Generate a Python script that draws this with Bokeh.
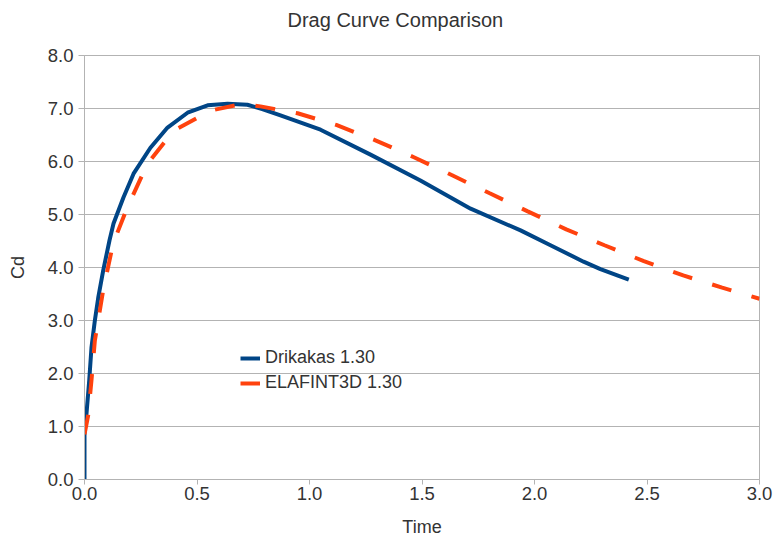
from bokeh.plotting import figure
from bokeh.models import (Range1d, FixedTicker, Legend, LegendItem, NumeralTickFormatter,
                          Title, LinearAxis)
from bokeh.embed import file_html
from bokeh.resources import INLINE

# Drikakas 1.30
blue_t = [0, 0, 0.009, 0.021, 0.031, 0.046, 0.061, 0.083, 0.111, 0.129, 0.173, 0.218,
          0.293, 0.369, 0.458, 0.547, 0.636, 0.724, 0.79, 0.871, 1.049, 1.271, 1.493, 1.716,
          1.938, 2.071, 2.218, 2.293, 2.419]
blue_cd = [0, 0.87, 1.25, 1.87, 2.49, 3.0, 3.43, 3.94, 4.51, 4.83, 5.32, 5.77,
           6.26, 6.64, 6.92, 7.06, 7.09, 7.07, 6.99, 6.87, 6.60, 6.13, 5.64, 5.11,
           4.70, 4.42, 4.11, 3.97, 3.77]

# ELAFINT3D 1.30
red_t = [0, 0.016, 0.031, 0.046, 0.083, 0.127, 0.19, 0.28, 0.396, 0.56, 0.693, 0.782,
         0.947, 1.119, 1.293, 1.464, 1.634, 1.801, 1.970, 2.141, 2.311, 2.486, 2.661,
         2.834, 3.0]
red_cd = [0.85, 1.2, 1.87, 2.62, 3.57, 4.45, 5.13, 5.96, 6.58, 6.96, 7.08, 7.04,
          6.91, 6.69, 6.40, 6.08, 5.74, 5.40, 5.06, 4.72, 4.42, 4.12, 3.85,
          3.62, 3.41]

x_ticks = [0.0, 0.5, 1.0, 1.5, 2.0, 2.5, 3.0]
y_ticks = [0, 1, 2, 3, 4, 5, 6, 7, 8]
title_text = "Drag Curve Comparison"

FONT = "Liberation Sans"
TXT = "#333333"
GRID = "#b3b3b3"

p = figure(width=776, height=541, output_backend="svg", toolbar_location=None,
           x_range=Range1d(0, 3), y_range=Range1d(0, 8),
           min_border_left=84, min_border_right=17, min_border_top=55, min_border_bottom=62)

xax = p.below[0]
yax = p.left[0]

# invisible spacer axis above the frame, to lift the title
spacer = LinearAxis(ticker=FixedTicker(ticks=[0]), major_label_overrides={0: ""},
                    major_label_text_font_size="1px", major_tick_out=25, major_tick_in=0,
                    minor_tick_out=0, minor_tick_in=0, major_label_standoff=0,
                    axis_line_color=None, major_tick_line_color=None,
                    minor_tick_line_color=None)
p.add_layout(spacer, "above")

p.title = Title(text=title_text, align="left", offset=203, vertical_align="bottom",
                standoff=0, text_font=FONT, text_font_size="20px",
                text_font_style="normal", text_color=TXT)

r1 = p.line(blue_t, blue_cd, line_color="#004586", line_width=4, line_join="round")
r2 = p.line(red_t, red_cd, line_color="#ff420e", line_width=4, line_dash="20 21")

p.outline_line_color = GRID
p.xgrid.visible = False
p.ygrid.grid_line_color = GRID
p.ygrid.ticker = FixedTicker(ticks=y_ticks)

for ax in (xax, yax):
    ax.axis_line_color = GRID
    ax.major_tick_line_color = GRID
    ax.major_tick_in = 0
    ax.minor_tick_line_color = None
    ax.major_label_text_font = FONT
    ax.major_label_text_font_size = "18.5px"
    ax.major_label_text_color = TXT
    ax.axis_label_text_font = FONT
    ax.axis_label_text_font_size = "18px"
    ax.axis_label_text_font_style = "normal"
    ax.axis_label_text_color = TXT
    ax.formatter = NumeralTickFormatter(format="0.0")

xax.ticker = FixedTicker(ticks=x_ticks)
yax.ticker = FixedTicker(ticks=y_ticks)
xax.axis_label = "Time"
yax.axis_label = "Cd"
xax.major_tick_out = 5
yax.major_tick_out = 6
xax.major_label_standoff = 2
yax.major_label_standoff = 5
xax.axis_label_standoff = 14
yax.axis_label_standoff = 17

legend = Legend(items=[LegendItem(label="Drikakas 1.30", renderers=[r1]),
                       LegendItem(label="ELAFINT3D 1.30", renderers=[r2])],
                location=(156, 86), padding=0, margin=0, spacing=4,
                glyph_width=20, glyph_height=20, label_height=20, label_standoff=5,
                border_line_color=None, background_fill_alpha=0,
                label_text_font=FONT, label_text_font_size="18px", label_text_color=TXT)
p.add_layout(legend, "center")

open("out.html", "w").write(file_html(p, INLINE))
